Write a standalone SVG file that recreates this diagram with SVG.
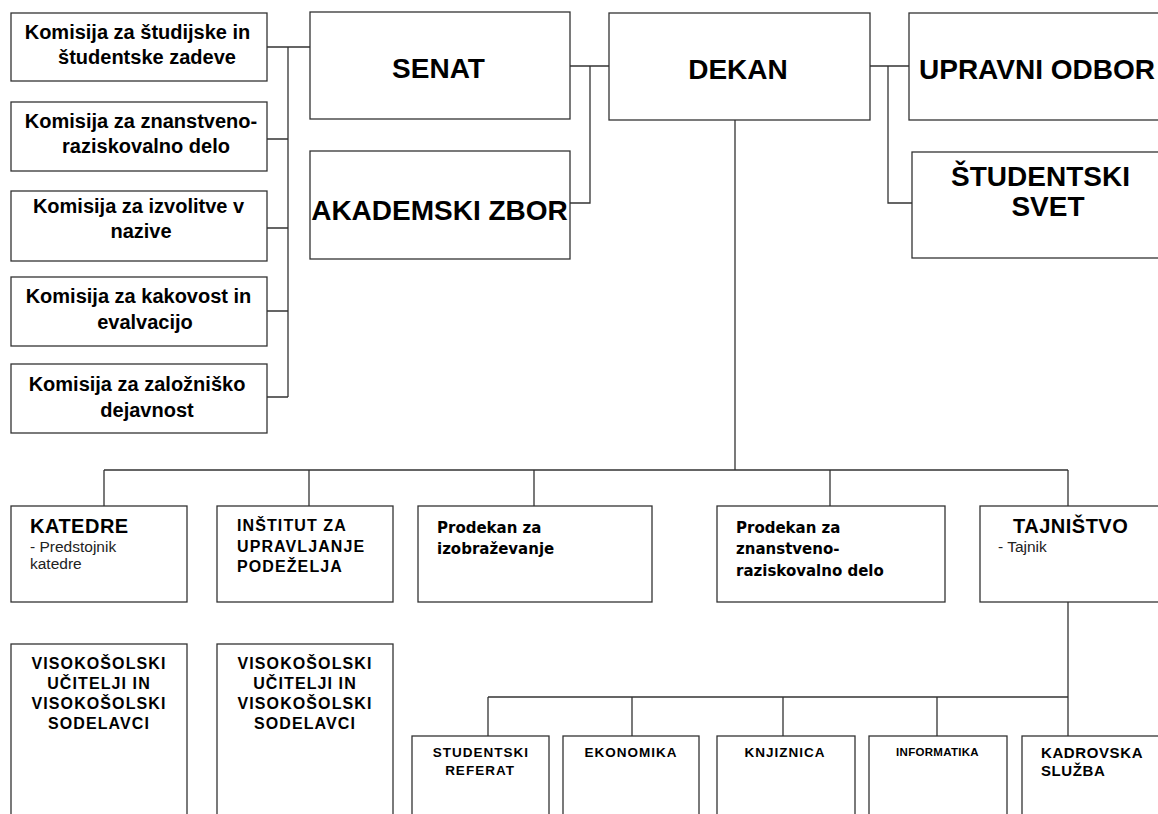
<svg xmlns="http://www.w3.org/2000/svg" width="1158" height="814" viewBox="0 0 1158 814">
<style>
.box{fill:#fff;stroke:#333;stroke-width:1.3}
.ln{fill:none;stroke:#333;stroke-width:1.3}
.t{font-family:"Liberation Sans",Arial,sans-serif;font-weight:bold;fill:#000}
.k{font-size:20px;text-anchor:middle}
.big{font-size:28px}
.mid{text-anchor:middle}
.h19{font-size:20px;letter-spacing:0.5px}
.h16{font-size:16px;letter-spacing:1.1px}
.p{font-family:"DejaVu Sans",Verdana,sans-serif;font-weight:bold;font-size:15px;fill:#000}
.s{font-family:"Liberation Sans",Arial,sans-serif;font-size:15.5px;fill:#222}
.b14{font-size:13.5px;letter-spacing:1px}
.kad{font-size:15px;letter-spacing:0.6px}
.inf{font-size:11.5px;letter-spacing:0.3px}
</style>
<rect width="1158" height="814" fill="#fff"/>
<g id="connectors">
<path class="ln" d="M267 47H310M288 47V397M267 139H288M267 228H288M267 311H288M267 397H288"/>
<path class="ln" d="M570 66H609M590 66V203H570"/>
<path class="ln" d="M870 66H909M888 66V203H912"/>
<path class="ln" d="M735 120V470M104 470H1068M104 470V506M309 470V506M534 470V506M830 470V506M1068 470V506"/>
<path class="ln" d="M1068 602V736M488 697H1068M488 697V736M632 697V736M783 697V736M937 697V736"/>
</g>
<g id="kom1"><rect class="box" x="11" y="13" width="256" height="68"/><text class="t k" x="137.5" y="39">Komisija za študijske in</text><text class="t k" x="147" y="64">študentske zadeve</text></g>
<g id="kom2"><rect class="box" x="11" y="102" width="256" height="69"/><text class="t k" x="141" y="128">Komisija za znanstveno-</text><text class="t k" x="146" y="153">raziskovalno delo</text></g>
<g id="kom3"><rect class="box" x="11" y="191" width="256" height="70"/><text class="t k" x="138.5" y="213">Komisija za izvolitve v</text><text class="t k" x="141" y="238">nazive</text></g>
<g id="kom4"><rect class="box" x="11" y="277" width="256" height="69"/><text class="t k" x="138.5" y="303">Komisija za kakovost in</text><text class="t k" x="145" y="329">evalvacijo</text></g>
<g id="kom5"><rect class="box" x="11" y="364" width="256" height="69"/><text class="t k" x="137" y="391">Komisija za založniško</text><text class="t k" x="147" y="417">dejavnost</text></g>
<g id="senat"><rect class="box" x="310" y="12" width="260" height="107"/><text class="t big mid" x="438.5" y="78">SENAT</text></g>
<g id="akademski"><rect class="box" x="310" y="151" width="260" height="108"/><text class="t big mid" x="439.5" y="220">AKADEMSKI ZBOR</text></g>
<g id="dekan"><rect class="box" x="609" y="13" width="261" height="107"/><text class="t big mid" x="738" y="79">DEKAN</text></g>
<g id="upravni"><rect class="box" x="909" y="13" width="270" height="107"/><text class="t big" x="919" y="79">UPRAVNI ODBOR</text></g>
<g id="studentski"><rect class="box" x="912" y="152" width="270" height="106"/><text class="t big mid" x="1040.5" y="186">ŠTUDENTSKI</text><text class="t big mid" x="1048" y="216">SVET</text></g>
<g id="katedre"><rect class="box" x="11" y="506" width="176" height="96"/><text class="t h19" x="30" y="533">KATEDRE</text><text class="s" x="30" y="552">- Predstojnik</text><text class="s" x="30" y="569">katedre</text></g>
<g id="institut"><rect class="box" x="217" y="506" width="176" height="96"/><text class="t h16" x="237" y="531">INŠTITUT ZA</text><text class="t h16" x="237" y="552">UPRAVLJANJE</text><text class="t h16" x="237" y="572">PODEŽELJA</text></g>
<g id="prodekan1"><rect class="box" x="418" y="506" width="234" height="96"/><text class="p" x="437" y="533">Prodekan za</text><text class="p" x="437" y="554">izobraževanje</text></g>
<g id="prodekan2"><rect class="box" x="717" y="506" width="228" height="96"/><text class="p" x="736" y="533">Prodekan za</text><text class="p" x="736" y="554">znanstveno-</text><text class="p" x="736" y="576">raziskovalno delo</text></g>
<g id="tajnistvo"><rect class="box" x="980" y="506" width="190" height="96"/><text class="t h19" x="1013" y="533">TAJNIŠTVO</text><text class="s" x="998" y="552">- Tajnik</text></g>
<g id="visoko1"><rect class="box" x="11" y="644" width="176" height="190"/><text class="t h16 mid" x="99" y="669">VISOKOŠOLSKI</text><text class="t h16 mid" x="99" y="689">UČITELJI IN</text><text class="t h16 mid" x="99" y="709">VISOKOŠOLSKI</text><text class="t h16 mid" x="99" y="729">SODELAVCI</text></g>
<g id="visoko2"><rect class="box" x="217" y="644" width="176" height="190"/><text class="t h16 mid" x="305" y="669">VISOKOŠOLSKI</text><text class="t h16 mid" x="305" y="689">UČITELJI IN</text><text class="t h16 mid" x="305" y="709">VISOKOŠOLSKI</text><text class="t h16 mid" x="305" y="729">SODELAVCI</text></g>
<g id="referat"><rect class="box" x="412" y="736" width="137" height="100"/><text class="t b14 mid" x="481" y="757">STUDENTSKI</text><text class="t b14 mid" x="480" y="775">REFERAT</text></g>
<g id="ekonomika"><rect class="box" x="563" y="736" width="136" height="100"/><text class="t b14 mid" x="631" y="757">EKONOMIKA</text></g>
<g id="knjiznica"><rect class="box" x="717" y="736" width="138" height="100"/><text class="t b14 mid" x="785" y="757">KNJIZNICA</text></g>
<g id="informatika"><rect class="box" x="869" y="736" width="138" height="100"/><text class="t inf mid" x="937.5" y="756">INFORMATIKA</text></g>
<g id="kadrovska"><rect class="box" x="1022" y="736" width="150" height="100"/><text class="t kad" x="1041" y="758">KADROVSKA</text><text class="t kad" x="1041" y="776">SLUŽBA</text></g>
</svg>
